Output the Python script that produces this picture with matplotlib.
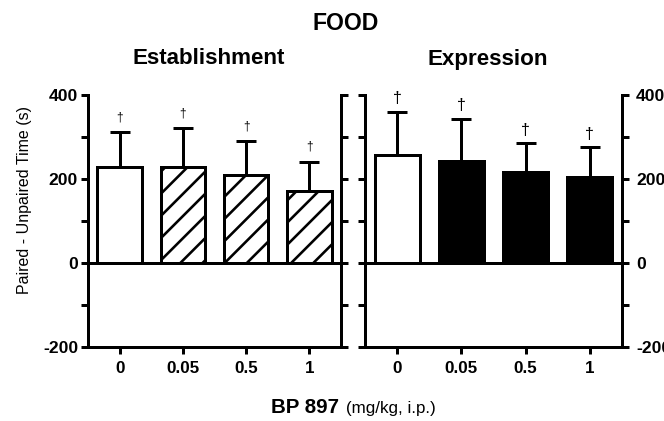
import numpy as np
import matplotlib
matplotlib.use('Agg')
import matplotlib.pyplot as plt

# pixel based layout
DPI = 133
W, H = 664, 421


def pt(px):
    return px * 72 / DPI


def box(x0, x1, y0, y1):
    return [x0 / W, 1 - y1 / H, (x1 - x0) / W, (y1 - y0) / H]


# data
doses = ['0', '0.05', '0.5', '1']
est_mean = [228, 228, 209, 171]
est_sem = [83, 93, 81, 70]
exp_mean = [257, 244, 217, 205]
exp_sem = [103, 99, 68, 71]

est_colors = ['white', 'white', 'white', 'white']
est_hatch = ['', '//', '//', '//']
exp_colors = ['white', 'black', 'black', 'black']
exp_hatch = ['', '', '', '']

yticks = [-200, -100, 0, 100, 200, 300, 400]
ytick_labels = ['-200', '', '0', '', '200', '', '400']

plt.rcParams['font.family'] = ['Liberation Sans', 'DejaVu Sans']
plt.rcParams['hatch.linewidth'] = pt(2.6)

fig = plt.figure(figsize=(W / DPI, H / DPI), dpi=DPI)
ax1 = fig.add_axes(box(88, 341, 95, 347))
ax2 = fig.add_axes(box(365, 622, 95, 347))

lw = pt(3)


def panel(ax, mean, sem, colors, hatches, dag_size, dag_off, right_labels):
    x = np.arange(len(mean))
    ax.errorbar(x, mean, yerr=[np.zeros(len(sem)), sem], fmt='none',
                ecolor='black', elinewidth=lw, capsize=pt(10), capthick=lw,
                zorder=2)
    bars = ax.bar(x, mean, width=0.7, color=colors, edgecolor='black',
                  linewidth=lw, zorder=3)
    for b, h in zip(bars, hatches):
        if h:
            b.set_hatch(h)
    ax.axhline(0, color='black', lw=lw, zorder=4)
    # daggers above the error bars
    for i in range(len(mean)):
        ax.text(x[i], mean[i] + sem[i] + dag_off, '\u2020', ha='center',
                va='center', fontsize=pt(dag_size), color='black')

    ax.set_xlim(-0.5, 3.5)
    ax.set_ylim(-200, 400)
    ax.set_yticks(yticks)
    ax.set_yticklabels(ytick_labels, fontsize=pt(17.5), fontweight='bold')
    ax.set_xticks(x)
    ax.set_xticklabels(doses, fontsize=pt(17), fontweight='bold')

    ax.spines['top'].set_visible(False)
    for s in ['left', 'right', 'bottom']:
        ax.spines[s].set_linewidth(lw)
    ax.tick_params(axis='both', direction='out', length=pt(7), width=lw)
    ax.tick_params(axis='x', pad=pt(7))
    if right_labels:
        ax.tick_params(axis='y', left=True, right=True, labelleft=False,
                       labelright=True, pad=pt(7))
    else:
        ax.tick_params(axis='y', left=True, right=True, labelleft=True,
                       labelright=False, pad=pt(3))


panel(ax1, est_mean, est_sem, est_colors, est_hatch, 12, 36, False)
panel(ax2, exp_mean, exp_sem, exp_colors, exp_hatch, 16, 31, True)


def ftext(x, y, s, **kw):
    fig.text(x / W, 1 - y / H, s, **kw)


ftext(346, 24, 'FOOD', ha='center', va='center', fontsize=pt(23), fontweight='bold')
ftext(208.5, 59, 'Establishment', ha='center', va='center', fontsize=pt(22.4), fontweight='bold')
ftext(487.5, 59, 'Expression', ha='center', va='center', fontsize=pt(22.4), fontweight='bold')
ftext(25, 200, 'Paired - Unpaired Time (s)', ha='center', va='center',
      rotation=90, fontsize=pt(16))
ftext(339, 413, 'BP 897', ha='right', va='baseline', fontsize=pt(20.5), fontweight='bold')
ftext(346, 413, '(mg/kg, i.p.)', ha='left', va='baseline', fontsize=pt(17))

fig.savefig('out.png', dpi=DPI)
